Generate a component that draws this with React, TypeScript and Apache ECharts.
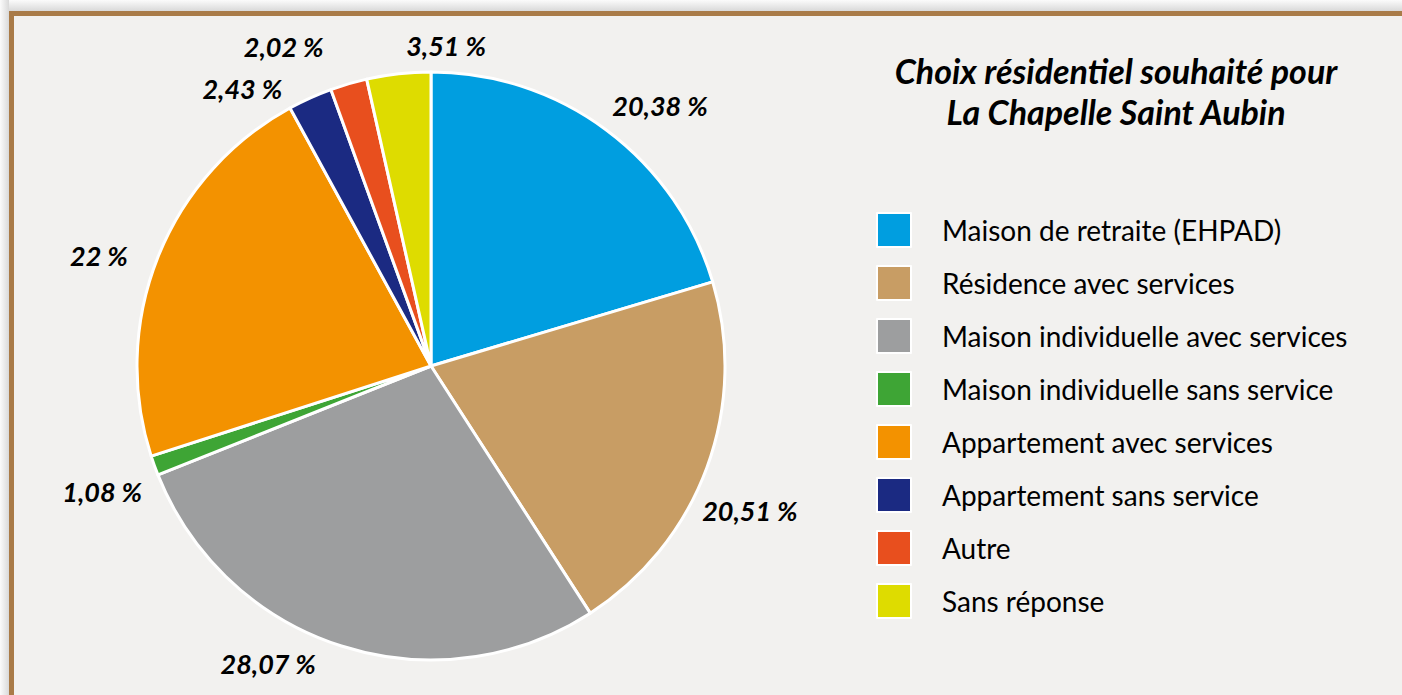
import React, { useEffect, useRef } from "react";
import * as echarts from "echarts";

const categories = [
  "Maison de retraite (EHPAD)",
  "Résidence avec services",
  "Maison individuelle avec services",
  "Maison individuelle sans service",
  "Appartement avec services",
  "Appartement sans service",
  "Autre",
  "Sans réponse",
];
const values = [20.38, 20.51, 28.07, 1.08, 22, 2.43, 2.02, 3.51];
const valueLabels = ["20,38 %", "20,51 %", "28,07 %", "1,08 %", "22 %", "2,43 %", "2,02 %", "3,51 %"];
const colors = ["#009ee0", "#c89d64", "#9d9e9f", "#3ea535", "#f39200", "#1b2a82", "#e84f1e", "#dedc00"];
const titleText = "Choix résidentiel souhaité pour\nLa Chapelle Saint Aubin";
// manual nudges of the value labels (as moved in the original chart)
const labelNudges = [
  [40, -14],
  [25, 38],
  [-64, 4],
  [-34, 21],
  [-41, 4],
  [-57, 3],
  [-56, -24],
  [54, -14],
];

export default function App() {
  const ref = useRef<HTMLDivElement>(null);
  useEffect(() => {
    if (!ref.current) return;
    const chart = echarts.init(ref.current, undefined, { renderer: "svg" });
    chart.setOption({
      animation: false,
      backgroundColor: "#f2f1ef",
      title: {
        text: titleText,
        left: 1111,
        top: 45,
        textAlign: "center",
        textStyle: {
          fontFamily: "Lato",
          fontStyle: "italic",
          fontWeight: "bold",
          fontSize: 34,
          lineHeight: 41,
          color: "#000",
        },
      },
      legend: {
        orient: "vertical",
        left: 871,
        top: 207,
        icon: "rect",
        itemWidth: 34,
        itemHeight: 34,
        itemGap: 17,
        itemStyle: { borderColor: "#ffffff", borderWidth: 2 },
        textStyle: {
          fontFamily: "Lato",
          fontSize: 28,
          lineHeight: 34,
          color: "#000",
          padding: [0, 0, 0, 26],
        },
        data: categories,
      },
      graphic: [
        {
          type: "rect",
          shape: { x: 0, y: 0, width: 1402, height: 11 },
          style: {
            fill: new echarts.graphic.LinearGradient(0, 0, 0, 1, [
              { offset: 0, color: "#fbfbfb" },
              { offset: 1, color: "#d9d9d9" },
            ]),
          },
          silent: true,
        },
        {
          type: "rect",
          shape: { x: 0, y: 0, width: 9, height: 695 },
          style: {
            fill: new echarts.graphic.LinearGradient(0, 0, 1, 0, [
              { offset: 0, color: "#fbfbfb" },
              { offset: 1, color: "#d9d9d9" },
            ]),
          },
          silent: true,
        },
        {
          type: "rect",
          shape: { x: 9, y: 11, width: 1393, height: 5 },
          style: { fill: "#a97b48" },
          silent: true,
        },
        {
          type: "rect",
          shape: { x: 9, y: 11, width: 5, height: 684 },
          style: { fill: "#a97b48" },
          silent: true,
        },
      ],
      series: [
        {
          type: "pie",
          center: [431, 366],
          radius: 294,
          startAngle: 90,
          clockwise: true,
          avoidLabelOverlap: false,
          itemStyle: { borderColor: "#ffffff", borderWidth: 3 },
          label: {
            show: true,
            position: "outside",
            formatter: (p: any) => valueLabels[p.dataIndex],
            fontFamily: "Lato",
            fontStyle: "italic",
            fontWeight: "bold",
            fontSize: 27,
            color: "#000",
          },
          labelLine: { show: false, length: 14, length2: 0 },
          labelLayout: (p: any) => ({
            align: "center",
            dx: labelNudges[p.dataIndex][0],
            dy: labelNudges[p.dataIndex][1],
            hideOverlap: false,
          }),
          emphasis: { disabled: true },
          data: categories.map((name, i) => ({
            name,
            value: values[i],
            itemStyle: { color: colors[i] },
          })),
        },
      ],
    });
    return () => chart.dispose();
  }, []);
  return (
    <div
      ref={ref}
      style={{ position: "fixed", left: 0, top: 0, width: 1402, height: 695 }}
    />
  );
}
